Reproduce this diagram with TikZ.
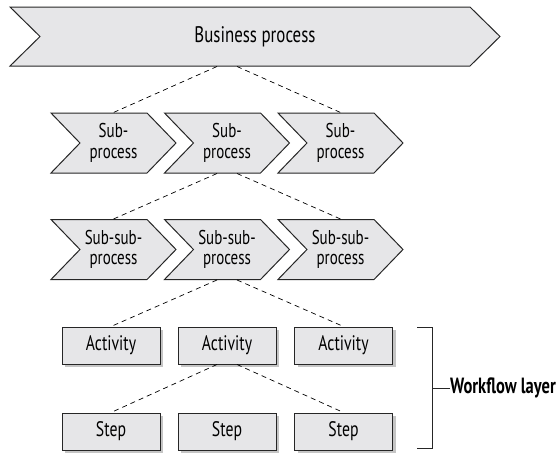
\documentclass[tikz,border=0pt]{standalone}
\usepackage{fontspec}
\setmainfont{PT Sans}[FakeStretch=0.75]
\usetikzlibrary{shapes.symbols,shadows,calc}
\definecolor{procgray}{RGB}{230,230,232}
\tikzset{
  chev/.style={signal, signal from=west, signal to=east, signal pointer angle=92,
    draw=black!85, line width=1pt, fill=procgray, minimum width=125pt,
    minimum height=60pt, inner sep=0pt, align=center,
    font=\fontsize{20}{20.5}\selectfont},
  wfbox/.style={rectangle, draw=black!85, line width=1pt, fill=procgray,
    minimum width=98pt, minimum height=37pt, inner sep=0pt,
    drop shadow={shadow xshift=3pt, shadow yshift=-3pt, fill=black!45},
    font=\fontsize{21}{20}\selectfont},
  link/.style={dash pattern=on 5pt off 4pt, line width=0.7pt}
}
\begin{document}
\begin{tikzpicture}[x=1pt,y=-1pt]
      \useasboundingbox (0,0) rectangle (558,455);
      % process levels
      \node[chev, minimum width=490pt, minimum height=59pt, signal pointer angle=89,
        font=\fontsize{22.5}{20}\selectfont]
        (bp) at (255,36.5) {Business process};
      \node[chev] (sp1) at (113.5,143) {Sub-\\process};
      \node[chev] (sp2) at (227,143) {Sub-\\process};
      \node[chev] (sp3) at (340.5,143) {Sub-\\process};
      \node[chev] (ssp1) at (113.5,249.5) {Sub-sub-\\process};
      \node[chev] (ssp2) at (227,249.5) {Sub-sub-\\process};
      \node[chev] (ssp3) at (340.5,249.5) {Sub-sub-\\process};
      % workflow layer
      \node[wfbox] (act1) at (111,345.5) {Activity};
      \node[wfbox] (act2) at (227,345.5) {Activity};
      \node[wfbox] (act3) at (343.5,345.5) {Activity};
      \node[wfbox] (st1) at (111,431.5) {Step};
      \node[wfbox] (st2) at (227,431.5) {Step};
      \node[wfbox] (st3) at (343.5,431.5) {Step};
      \begin{scope}[link]
        \draw ($(bp.south -| sp2.north)+(-10,0)$) to (sp1.north);
        \draw ($(bp.south -| sp2.north)+(10,0)$) to (sp3.north);
        \draw ($(sp2.south)+(-10,0)$) to (ssp1.north);
        \draw ($(sp2.south)+(10,0)$) to (ssp3.north);
        \draw ($(ssp2.south)+(-10,0)$) to (act1.north);
        \draw ($(ssp2.south)+(10,0)$) to (act3.north);
        \draw ($(act2.south)+(-10,0)$) to (st1.north);
        \draw ($(act2.south)+(10,0)$) to (st3.north);
      \end{scope}
      % bracket
      \coordinate (brk) at (432,388);
      \node[anchor=west, inner sep=0pt, font=\bfseries\fontsize{22}{20}\selectfont]
        (wfl) at (450,388) {Workflow layer};
      \draw[line width=1pt, black!85] (417,327) -- (432,327) -- (432,448) -- (417,448);
      \draw[line width=1pt, black!85] (brk) to (wfl.west);
    \end{tikzpicture}
\end{document}
